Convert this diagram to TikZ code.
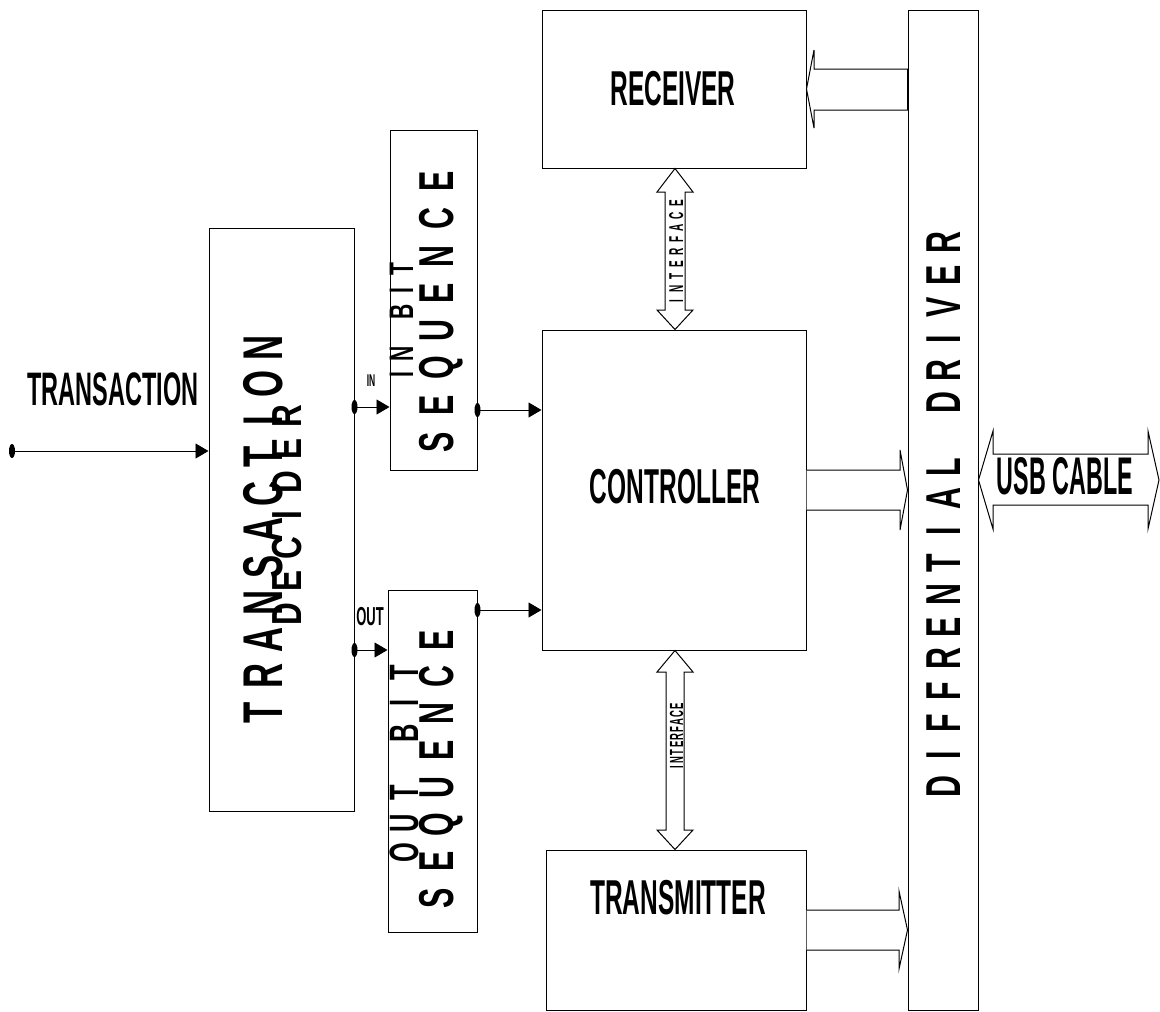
\documentclass[tikz,border=0pt]{standalone}
\usepackage{fontspec}
\setmainfont{Liberation Sans}
\newfontfamily\cond[FakeStretch=0.5]{Liberation Sans}
\newfontfamily\condn[FakeStretch=0.44]{Liberation Sans}
\newfontfamily\rotf[FakeStretch=0.62]{Liberation Sans}
\newfontfamily\rotw[FakeStretch=0.75]{Liberation Sans}
\usetikzlibrary{arrows.meta}
\makeatletter
\newcommand\lsp[2]{\@tfor\lspch:=#2\do{\makebox[#1]{\lspch}}}
\makeatother
\begin{document}
\begin{tikzpicture}[x=1pt,y=-1pt,
  box/.style={draw, line width=1pt, inner sep=0pt},
  conn/.style={line width=0.9pt, -{Triangle[length=13pt,width=15pt]}},
  barrow/.style={draw, line width=1pt, fill=white, line join=miter},
  lbl/.style={inner sep=0pt, font=\cond\bfseries\fontsize{49}{49}\selectfont},
  rlbl/.style={inner sep=0pt, rotate=90, anchor=base},
  dot/.style={fill=black}]
\useasboundingbox (0,0) rectangle (1160,1012);

% boxes
\node[box, minimum width=145pt, minimum height=583pt] (dec) at (281.5,519.5) {};
\node[box, minimum width=87pt, minimum height=340pt] (inseq) at (433.5,300) {};
\node[box, minimum width=89pt, minimum height=342pt] (outseq) at (432.5,761) {};
\node[box, minimum width=264pt, minimum height=320pt] (ctrl) at (674,490) {};
\node[box, minimum width=264pt, minimum height=158pt] (rcv) at (674,89) {};
\node[box, minimum width=260pt, minimum height=160pt] (tx) at (676,930) {};
\node[box, minimum width=70pt, minimum height=1000pt] (drv) at (943,510) {};

% box texts
\node[lbl] (trcv) at (673,89) {RECEIVER};
\node[lbl] (tctrl) at (675,487) {CONTROLLER};
\node[lbl] (ttx) at (678,898) {TRANSMITTER};
\node[rlbl, font=\rotf\bfseries\fontsize{56}{56}\selectfont] (ttrans) at (282,530) {\lsp{36.5pt}{TRANSACTION}};
\node[rlbl, font=\rotw\bfseries\fontsize{42}{42}\selectfont] (tdeci) at (301,515) {\lsp{33pt}{DECIDER}};
\begin{scope}
  \clip (inseq.north west) rectangle (inseq.south east);
  \node[rlbl, font=\rotf\bfseries\fontsize{34}{34}\selectfont] (tinbit) at (413,322) {\lsp{21pt}{IN\ BIT}};
\end{scope}
\node[rlbl, font=\rotf\bfseries\fontsize{49}{49}\selectfont] (tinseq) at (453,312) {\lsp{37.3pt}{SEQUENCE}};
\begin{scope}
  \clip (outseq.north west) rectangle (outseq.south east);
  \node[rlbl, font=\rotf\bfseries\fontsize{41}{41}\selectfont] (toutbit) at (418,763) {\lsp{30pt}{OUT\ BIT}};
\end{scope}
\node[rlbl, font=\rotf\bfseries\fontsize{49}{49}\selectfont] (toutseq) at (453,769) {\lsp{36.9pt}{SEQUENCE}};
\node[rlbl, font=\rotf\bfseries\fontsize{49}{49}\selectfont] (tdrv) at (960,515) {\lsp{32pt}{DIFFRENTIAL\ DRIVER}};

% outside labels
\node[inner sep=0pt, font=\cond\bfseries\fontsize{47}{47}\selectfont] (ltrans) at (113,389) {TRANSACTION};
\node[inner sep=0pt, font=\cond\bfseries\fontsize{17}{17}\selectfont] (lin) at (371,381) {IN};
\node[inner sep=0pt, font=\cond\bfseries\fontsize{26}{26}\selectfont] (lout) at (370,617) {OUT};

% line connectors
\coordinate (tin) at (12,451);
\coordinate (yin) at (0,407);
\coordinate (yout) at (0,650);
\coordinate (yc1) at (0,410);
\coordinate (yc2) at (0,610);
\draw[conn] (tin) -- (dec.west |- tin);
\fill[dot] (tin) ellipse [x radius=3, y radius=7];
\draw[conn] (dec.east |- yin) -- (inseq.west |- yin);
\fill[dot] (dec.east |- yin) ellipse [x radius=3, y radius=7];
\draw[conn] (dec.east |- yout) -- (outseq.west |- yout);
\fill[dot] (dec.east |- yout) ellipse [x radius=3, y radius=7];
\draw[conn] (inseq.east |- yc1) -- (ctrl.west |- yc1);
\fill[dot] (inseq.east |- yc1) ellipse [x radius=3, y radius=7];
\draw[conn] (outseq.east |- yc2) -- (ctrl.west |- yc2);
\fill[dot] (outseq.east |- yc2) ellipse [x radius=3, y radius=7];

% block arrows
\draw[barrow] (rcv.east |- 0,89) -- (814,50) -- (814,69) -- (drv.west |- 0,69)
  -- (drv.west |- 0,110) -- (814,110) -- (814,128) -- cycle;
\draw[barrow] (ctrl.east |- 0,470) -- (900,470) -- (900,450) -- (drv.west |- 0,490)
  -- (900,530) -- (900,510) -- (ctrl.east |- 0,510);
\draw[barrow] (tx.east |- 0,910) -- (899,910) -- (899,891) -- (drv.west |- 0,930)
  -- (899,969) -- (899,950) -- (tx.east |- 0,950);
\draw[barrow] (drv.east |- 0,480) -- (993,431) -- (993,454) -- (1148,454) -- (1148,431)
  -- (1159,480) -- (1148,529) -- (1148,505) -- (993,505) -- (993,529) -- cycle;
\node[inner sep=0pt, font=\condn\bfseries\fontsize{53}{53}\selectfont] (lusb) at (1065,476) {USB CABLE};

% interface arrows
\draw[barrow] (rcv.south -| 675,0) -- (693,192) -- (685,192) -- (685,310) -- (693,310)
  -- (ctrl.north -| 675,0) -- (657,310) -- (665,310) -- (665,192) -- (657,192) -- cycle;
\draw[barrow] (ctrl.south -| 675,0) -- (693,672) -- (684,672) -- (684,830) -- (693,830)
  -- (tx.north -| 675,0) -- (657,830) -- (666,830) -- (666,672) -- (657,672) -- cycle;
\node[rlbl, font=\cond\bfseries\fontsize{20}{20}\selectfont] (lif1) at (683,252) {\lsp{12.2pt}{INTERFACE}};
\node[rlbl, font=\cond\bfseries\fontsize{19}{19}\selectfont] (lif2) at (683,737) {\lsp{7.6pt}{INTERFACE}};
\end{tikzpicture}
\end{document}
